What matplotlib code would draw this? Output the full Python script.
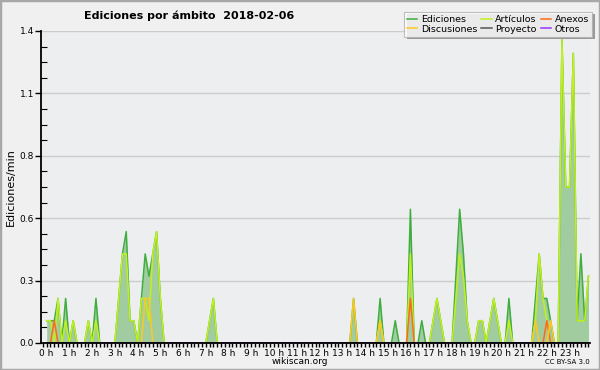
import numpy as np
import matplotlib
matplotlib.use('Agg')
import matplotlib.pyplot as plt
from matplotlib.patches import Rectangle
from matplotlib.ticker import MultipleLocator

# Edits per minute, one value per 10-minute bin (144 bins, 00:00 .. 23:50)
ediciones = [
    0.1, 0.1, 0.1, 0.2, 0, 0.2, 0, 0.1, 0, 0, 0, 0.1,
    0, 0.2, 0, 0, 0, 0, 0, 0.2, 0.4, 0.5, 0.1, 0.1,
    0, 0.2, 0.4, 0.3, 0.4, 0.5, 0.2, 0, 0, 0, 0, 0,
    0, 0, 0, 0, 0, 0, 0, 0.1, 0.2, 0, 0, 0,
    0, 0, 0, 0, 0, 0, 0, 0, 0, 0, 0, 0,
    0, 0, 0, 0, 0, 0, 0, 0, 0, 0, 0, 0,
    0, 0, 0, 0, 0, 0, 0, 0, 0, 0.2, 0, 0,
    0, 0, 0, 0, 0.2, 0, 0, 0, 0.1, 0, 0, 0,
    0.6, 0, 0, 0.1, 0, 0, 0.1, 0.2, 0.1, 0, 0, 0,
    0.3, 0.6, 0.4, 0.1, 0, 0, 0.1, 0.1, 0, 0.1, 0.2, 0.1,
    0, 0, 0.2, 0, 0, 0, 0, 0, 0, 0.2, 0.4, 0.2,
    0.2, 0.1, 0, 0, 1.36, 0.7, 0.7, 1.3, 0.1, 0.4, 0.1, 0.3,
]
articulos = [
    0.1, 0.1, 0, 0.2, 0, 0.1, 0, 0.1, 0, 0, 0, 0.1,
    0, 0.1, 0, 0, 0, 0, 0, 0.2, 0.4, 0.4, 0.1, 0.1,
    0, 0.2, 0.2, 0.1, 0.4, 0.5, 0.2, 0, 0, 0, 0, 0,
    0, 0, 0, 0, 0, 0, 0, 0.1, 0.2, 0, 0, 0,
    0, 0, 0, 0, 0, 0, 0, 0, 0, 0, 0, 0,
    0, 0, 0, 0, 0, 0, 0, 0, 0, 0, 0, 0,
    0, 0, 0, 0, 0, 0, 0, 0, 0, 0, 0, 0,
    0, 0, 0, 0, 0.1, 0, 0, 0, 0, 0, 0, 0,
    0.4, 0, 0, 0, 0, 0, 0.1, 0.2, 0.1, 0, 0, 0,
    0.2, 0.4, 0.3, 0.1, 0, 0, 0.1, 0.1, 0, 0.1, 0.2, 0.1,
    0, 0, 0.1, 0, 0, 0, 0, 0, 0, 0.1, 0.4, 0.2,
    0.1, 0, 0, 0, 1.36, 0.7, 0.7, 1.3, 0.1, 0.1, 0.1, 0.3,
]
anexos = [
    0, 0, 0.1, 0, 0, 0, 0, 0, 0, 0, 0, 0,
    0, 0, 0, 0, 0, 0, 0, 0, 0, 0, 0, 0,
    0, 0, 0, 0, 0, 0, 0, 0, 0, 0, 0, 0,
    0, 0, 0, 0, 0, 0, 0, 0, 0, 0, 0, 0,
    0, 0, 0, 0, 0, 0, 0, 0, 0, 0, 0, 0,
    0, 0, 0, 0, 0, 0, 0, 0, 0, 0, 0, 0,
    0, 0, 0, 0, 0, 0, 0, 0, 0, 0, 0, 0,
    0, 0, 0, 0, 0, 0, 0, 0, 0, 0, 0, 0,
    0.2, 0, 0, 0, 0, 0, 0, 0, 0, 0, 0, 0,
    0, 0, 0, 0, 0, 0, 0, 0, 0, 0, 0, 0,
    0, 0, 0, 0, 0, 0, 0, 0, 0, 0, 0, 0,
    0.1, 0, 0, 0, 0, 0, 0, 0, 0, 0, 0, 0,
]
discusiones = [
    0, 0, 0, 0, 0, 0, 0, 0, 0, 0, 0, 0,
    0, 0, 0, 0, 0, 0, 0, 0, 0, 0, 0, 0,
    0, 0, 0.2, 0.2, 0, 0, 0, 0, 0, 0, 0, 0,
    0, 0, 0, 0, 0, 0, 0, 0, 0, 0, 0, 0,
    0, 0, 0, 0, 0, 0, 0, 0, 0, 0, 0, 0,
    0, 0, 0, 0, 0, 0, 0, 0, 0, 0, 0, 0,
    0, 0, 0, 0, 0, 0, 0, 0, 0, 0.2, 0, 0,
    0, 0, 0, 0, 0.1, 0, 0, 0, 0, 0, 0, 0,
    0, 0, 0, 0, 0, 0, 0, 0, 0, 0, 0, 0,
    0, 0, 0, 0, 0, 0, 0, 0, 0, 0, 0, 0,
    0, 0, 0, 0, 0, 0, 0, 0, 0, 0.1, 0, 0,
    0, 0.1, 0, 0, 0, 0, 0, 0, 0, 0, 0, 0,
]
proyecto = [0.0] * 144
otros = [0.0] * 144

hour_labels = [f"{h} h" for h in range(24)]
ytick_values = [0.0, 0.28, 0.56, 0.84, 1.12, 1.4]

series = [
    ("Ediciones", ediciones, "#3fae3f"),
    ("Artículos", articulos, "#c2f01c"),
    ("Anexos", anexos, "#ff6a1a"),
    ("Discusiones", discusiones, "#ffc81e"),
    ("Proyecto", proyecto, "#555555"),
    ("Otros", otros, "#9933ff"),
]

fig = plt.figure(figsize=(6, 3.7), dpi=100, facecolor="#f0f0f0")
ax = fig.add_axes([41 / 600, 27 / 370, 549 / 600, 312 / 370])
ax.set_facecolor("#edeef0")

t = np.arange(len(ediciones)) / 6.0
ax.fill_between(t, 0, ediciones, color="#a0cca0", lw=0, zorder=1)

handles = {}
for i, (name, vals, col) in enumerate(series):
    ln, = ax.plot(t, vals, color=col, lw=1.1, zorder=2 + i * 0.1, label=name)
    handles[name] = ln

ax.set_xlim(-0.25, 23.9)
ax.set_ylim(0, 1.4)

ax.set_yticks(ytick_values)
ax.set_yticklabels([f"{v:.1f}" for v in ytick_values])
ax.yaxis.set_minor_locator(MultipleLocator(0.07))
ax.set_xticks(range(24))
ax.set_xticklabels(hour_labels)
ax.xaxis.set_minor_locator(MultipleLocator(1 / 6))

ax.tick_params(axis="y", which="major", direction="out", length=4, width=1,
               labelsize=6.5, pad=1, colors="#000000")
ax.tick_params(axis="y", which="minor", direction="in", length=4, width=0.8)
ax.tick_params(axis="x", which="both", direction="out", length=3, width=1,
               labelsize=6.5, pad=1)

ax.grid(axis="y", which="major", color="#cccccc", lw=1, zorder=0)
ax.set_axisbelow(True)
for s in ("top", "right"):
    ax.spines[s].set_visible(False)
for s in ("left", "bottom"):
    ax.spines[s].set_linewidth(1.3)
    ax.spines[s].set_zorder(5)

ax.set_ylabel("Ediciones/min", fontsize=8, labelpad=3)

fig.text(0.315, 0.958, "Ediciones por ámbito  2018-02-06", fontsize=8,
         fontweight="bold", ha="center", va="center")
fig.text(0.5, 0.023, "wikiscan.org", fontsize=6.5, ha="center", va="center")
fig.text(0.983, 0.021, "CC BY-SA 3.0", fontsize=5, ha="right", va="center")

order = ["Ediciones", "Discusiones", "Artículos", "Proyecto", "Anexos", "Otros"]
leg = fig.legend([handles[n] for n in order], order, ncol=3,
                 loc="upper right", bbox_to_anchor=(592 / 600, 1 - 12 / 370),
                 fontsize=6.8, frameon=True, fancybox=False, shadow=False,
                 handlelength=1.1, handletextpad=0.4, columnspacing=0.4,
                 labelspacing=0.1, borderpad=0.3, borderaxespad=0)
leg.get_frame().set_edgecolor("#b0b0b0")
leg.get_frame().set_linewidth(0.8)
leg.set_zorder(10)

# drop shadow under the legend box
fig.canvas.draw()
bb = leg.get_window_extent().transformed(fig.transFigure.inverted())
fig.patches.append(Rectangle((bb.x0 + 2.5 / 600, bb.y0 - 2.5 / 370), bb.width, bb.height,
                             transform=fig.transFigure, fc="#9a9a9a", ec="none",
                             zorder=9))

fig.patches.append(Rectangle((0, 0), 1, 1, transform=fig.transFigure,
                             fill=False, ec="#a8a8a8", lw=2.5))

fig.savefig("out.png", dpi=100, facecolor=fig.get_facecolor())
